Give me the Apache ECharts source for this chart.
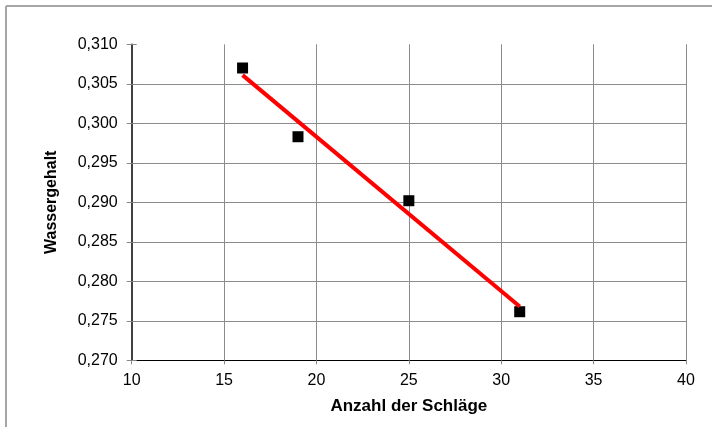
<!DOCTYPE html>
<html>
<head>
<meta charset="utf-8">
<script src="https://cdn.jsdelivr.net/npm/echarts@6/dist/echarts.min.js"></script>
<style>
  html, body { margin: 0; padding: 0; background: #fff; }
  #chart { width: 712px; height: 427px; }
</style>
</head>
<body>
<div id="chart"></div>
<script>
// Measured points: number of blows vs. water content
const blows = [16, 19, 25, 31];
const waterContent = [0.3070, 0.2983, 0.2902, 0.27615];

// Linear trend line end points
const trendX = [16, 31];
const trendY = [0.3061, 0.2768];

// Axis ranges and ticks
const xTicks = [10, 15, 20, 25, 30, 35, 40];
const yTickLabels = ['0,270', '0,275', '0,280', '0,285', '0,290', '0,295', '0,300', '0,305', '0,310'];

const FONT = '"Liberation Sans", Arial, sans-serif';

const chart = echarts.init(document.getElementById('chart'), null, { renderer: 'canvas' });

const yMin = 0.27, yMax = 0.31, yStep = 0.005;
function yLabel(v) {
  const idx = Math.round((v - yMin) / yStep);
  return yTickLabels[idx] !== undefined ? yTickLabels[idx] : '';
}

chart.setOption({
  animation: false,
  backgroundColor: '#ffffff',
  grid: { left: 131.7, right: 26, top: 44.3, bottom: 66.7, containLabel: false },
  xAxis: {
    type: 'value',
    min: xTicks[0],
    max: xTicks[xTicks.length - 1],
    interval: 5,
    name: 'Anzahl der Schläge',
    nameLocation: 'middle',
    nameGap: 38,
    nameTextStyle: { fontFamily: FONT, fontSize: 17, fontWeight: 'bold', color: '#000' },
    axisLine: { show: true, onZero: false, lineStyle: { color: '#000', width: 1 } },
    axisTick: { show: true, length: 4, lineStyle: { color: '#888' } },
    axisLabel: { fontFamily: FONT, fontSize: 16, color: '#000', margin: 12 },
    splitLine: { show: true, showMinLine: false, lineStyle: { color: '#8c8c8c', width: 1 } }
  },
  yAxis: [{
    type: 'value',
    min: yMin,
    max: yMax,
    interval: yStep,
    name: 'Wassergehalt',
    nameLocation: 'middle',
    nameGap: 72,
    nameTextStyle: { fontFamily: FONT, fontSize: 16, fontWeight: 'bold', color: '#000' },
    axisLine: { show: true, onZero: false, lineStyle: { color: '#000', width: 1.5 } },
    axisTick: { show: true, length: 5, lineStyle: { color: '#888' } },
    axisLabel: { fontFamily: FONT, fontSize: 16, color: '#000', margin: 14, formatter: yLabel },
    splitLine: { show: true, showMinLine: false, showMaxLine: false, lineStyle: { color: '#8c8c8c', width: 1 } }
  }, {
    // inner half of the crossing y ticks
    type: 'value',
    position: 'left',
    min: yMin,
    max: yMax,
    interval: yStep,
    axisLine: { show: false },
    axisTick: { show: true, inside: true, length: 5, lineStyle: { color: '#888' } },
    axisLabel: { show: false },
    splitLine: { show: false }
  }],
  graphic: [
    { type: 'line', shape: { x1: 6, y1: 6, x2: 712, y2: 6 }, style: { stroke: '#a6a6a6', lineWidth: 2 } },
    { type: 'line', shape: { x1: 6, y1: 6, x2: 6, y2: 427 }, style: { stroke: '#a6a6a6', lineWidth: 2 } }
  ],
  series: [
    {
      type: 'scatter',
      data: blows.map((x, i) => [x, waterContent[i]]),
      symbol: 'rect',
      symbolSize: 11,
      itemStyle: { color: '#000', opacity: 1 },
      z: 2
    },
    {
      type: 'line',
      data: trendX.map((x, i) => [x, trendY[i]]),
      symbol: 'none',
      lineStyle: { color: '#ff0000', width: 4 },
      z: 3
    }
  ]
});
</script>
</body>
</html>
